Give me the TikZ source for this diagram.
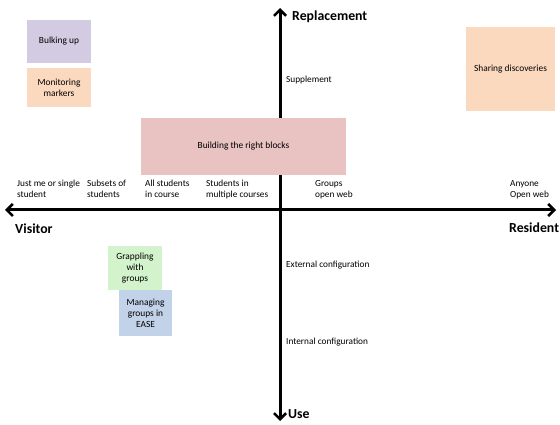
\documentclass[tikz,border=0pt]{standalone}
\usepackage{fontspec}
\setmainfont{Carlito}
\usetikzlibrary{arrows.meta}
\definecolor{lavender}{HTML}{D3CBE2}
\definecolor{peach}{HTML}{FBD9BF}
\definecolor{rose}{HTML}{E9C2C2}
\definecolor{mint}{HTML}{D3F3CC}
\definecolor{steel}{HTML}{C2D2E8}
\tikzset{
  card/.style={fill=#1, draw=none, align=center, font=\fontsize{9.4}{11.2}\selectfont, inner sep=1pt},
  axis/.style={line width=3pt, -{Straight Barb[length=6pt,width=12pt,line width=2.6pt]}},
  tag/.style={anchor=north west, align=left, inner sep=0pt, font=\fontsize{9.3}{11}\selectfont},
  pole/.style={inner sep=0pt, font=\fontsize{13.8}{15}\selectfont\bfseries},
}
\begin{document}
\begin{tikzpicture}[x=1pt,y=-1pt]
\useasboundingbox (0,0) rectangle (560,425);
% axes
\coordinate (origin) at (280,210);
\coordinate (top) at (280,8);
\coordinate (bottom) at (280,421);
\coordinate (left) at (5,210);
\coordinate (right) at (556,210);
\draw[axis] (origin) -- (top);
\draw[axis] (origin) -- (bottom);
\draw[axis] (origin) -- (left);
\draw[axis] (origin) -- (right);
% pole labels
\node[pole, anchor=west] (repl) at (292,17) {Replacement};
\node[pole, anchor=west] (use) at (288,414) {Use};
\node[pole, anchor=west] (vis) at (15,229) {Visitor};
\node[pole, anchor=west] (res) at (509,228) {Resident};
% vertical axis labels
\node[tag, anchor=west] (supp) at (286,80) {Supplement};
\node[tag, anchor=west] (ext) at (286,265) {External configuration};
\node[tag, anchor=west] (int) at (286,342) {Internal configuration};
% horizontal axis labels
\node[tag] (h1) at (17,180) {Just me or single\\student};
\node[tag] (h2) at (87,180) {Subsets of\\students};
\node[tag] (h3) at (145,180) {All students\\in course};
\node[tag] (h4) at (206,180) {Students in\\multiple courses};
\node[tag] (h5) at (315,180) {Groups\\open web};
\node[tag] (h6) at (510,180) {Anyone\\Open web};
% cards
\node[card=lavender, minimum width=64pt, minimum height=43pt] (bulk) at (59,41.5) {Bulking up};
\node[card=peach, minimum width=64pt, minimum height=39pt] (mon) at (59,87.5) {Monitoring\\markers};
\node[card=peach, minimum width=89pt, minimum height=84pt] (share) at (510.5,69) {Sharing discoveries};
\node[card=rose, minimum width=205pt, minimum height=57pt] (build) at (243.5,146.5) {Building the right blocks};
\node[card=mint, minimum width=54pt, minimum height=44pt] (grap) at (135,268) {Grappling\\with\\groups};
\node[card=steel, minimum width=53pt, minimum height=46pt] (manage) at (145.5,313) {Managing\\groups in\\EASE};
\end{tikzpicture}
\end{document}
